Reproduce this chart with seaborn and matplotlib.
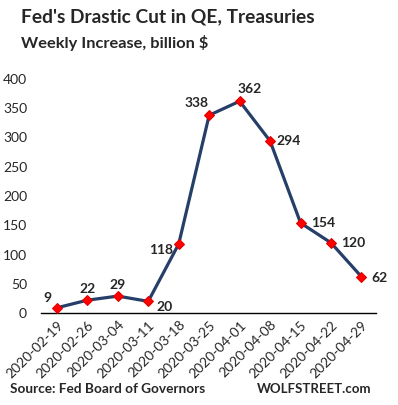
import matplotlib
matplotlib.use("Agg")
import matplotlib.pyplot as plt
import seaborn as sns
import pandas as pd

# data
weeks = ["2020-02-19", "2020-02-26", "2020-03-04", "2020-03-11", "2020-03-18",
         "2020-03-25", "2020-04-01", "2020-04-08", "2020-04-15", "2020-04-22",
         "2020-04-29"]
increase = [9, 22, 29, 20, 118, 338, 362, 294, 154, 120, 62]
y_ticks = [0, 50, 100, 150, 200, 250, 300, 350, 400]

# label offsets (points) per data point
label_offsets = [(-7, 7), (0, 8), (0, 8), (12, -4), (-13, -4), (-9, 9),
                 (7, 9), (13, 0), (16, 0), (16, 0), (13, -1)]

sns.set_style("white")
plt.rcParams['font.family'] = ['Lato', 'DejaVu Sans']

df = pd.DataFrame({"week": weeks, "value": increase})
df["pos"] = range(len(df))

fig = plt.figure(figsize=(3.98, 4.05), dpi=100)
ax = fig.add_axes([0.103, 0.227, 0.842, 0.578])

sns.lineplot(data=df, x="pos", y="value", ax=ax, color="#263f69",
             linewidth=2.3, marker="D", markersize=5.5,
             markerfacecolor="#ff0000", markeredgecolor="#e00000", zorder=3)

for (x, y), off in zip(zip(df["pos"], df["value"]), label_offsets):
    ax.annotate(str(y), (x, y), xytext=off, textcoords="offset points",
                ha="center", va="center", fontsize=10, fontweight="bold")

ax.set_xlim(-0.52, 10.48)
ax.set_ylim(0, 400)
ax.set_yticks(y_ticks)
ax.set_xticks(df["pos"])
ax.set_xticklabels(weeks, rotation=45, ha="right", rotation_mode="anchor")
ax.tick_params(axis="both", length=0, labelsize=10)
ax.tick_params(axis="y", pad=10)
ax.tick_params(axis="x", pad=4)
ax.set_xlabel("")
ax.set_ylabel("")
for s in ["left", "right", "top"]:
    ax.spines[s].set_visible(False)
ax.spines["bottom"].set_color("black")
ax.spines["bottom"].set_linewidth(1)
ax.grid(False)

fig.text(0.053, 0.958, "Fed's Drastic Cut in QE, Treasuries", fontsize=13.8,
         fontweight="bold", va="center")
fig.text(0.053, 0.895, "Weekly Increase, billion $", fontsize=11.8,
         fontweight="bold", va="center")
fig.text(0.025, 0.040, "Source: Fed Board of Governors", fontsize=9.8,
         fontweight="bold", va="center")
fig.text(0.932, 0.040, "WOLFSTREET.com", fontsize=9.5,
         fontweight="bold", va="center", ha="right")

fig.savefig("out.png", dpi=100)
